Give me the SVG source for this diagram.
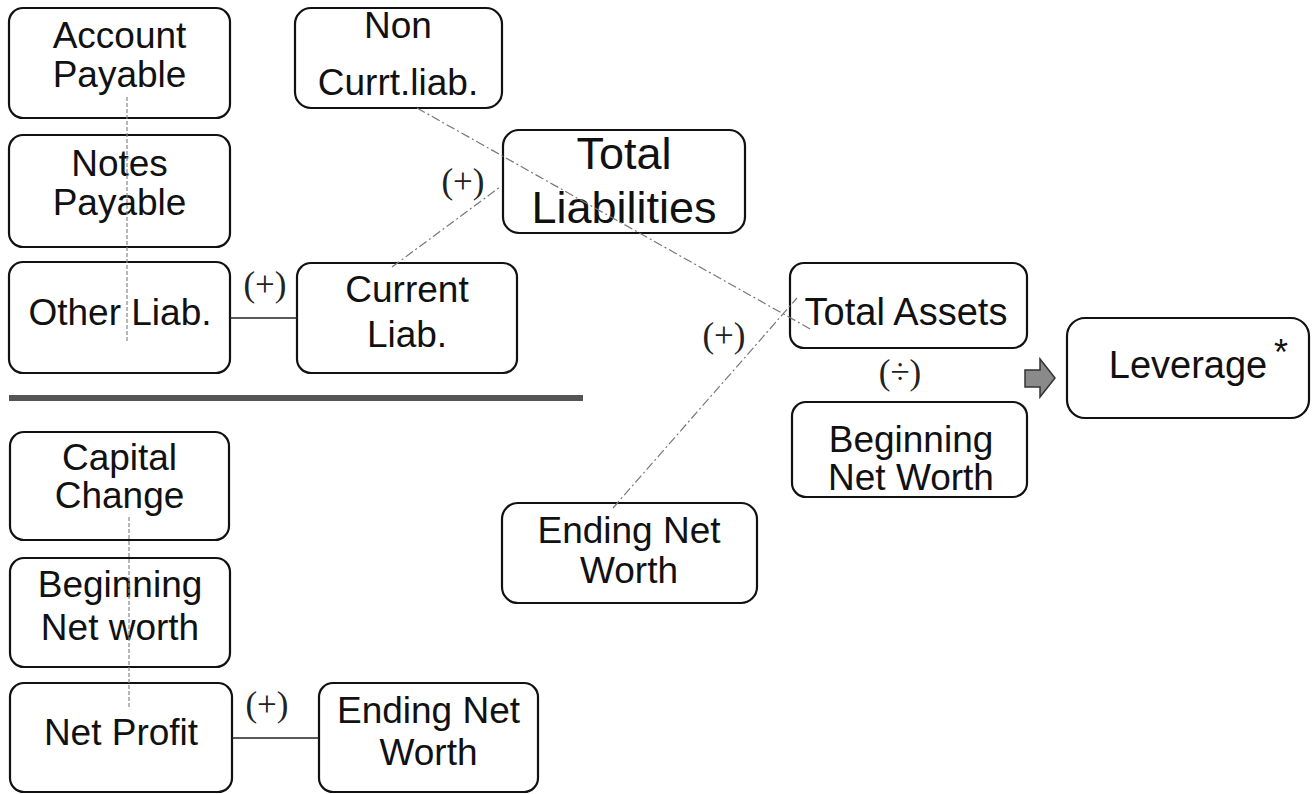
<svg xmlns="http://www.w3.org/2000/svg" width="1312" height="794" viewBox="0 0 1312 794">
<style>
.box{fill:#fff;stroke:#111;stroke-width:2.2}
.t{font-family:"Liberation Sans",Arial,sans-serif;font-size:37px;fill:#111;text-anchor:middle}
.op{font-family:"Liberation Serif","DejaVu Serif",serif;font-size:35px;fill:#222;text-anchor:middle}
.dash{stroke:#777;stroke-width:1.2;fill:none;stroke-dasharray:9 3 2 3}
.dot{stroke:#888;stroke-width:1.2;fill:none;stroke-dasharray:4 2}
.solid{stroke:#222;stroke-width:1.6;fill:none}
</style>
<rect width="1312" height="794" fill="#fff"/>
<g id="separator"><rect x="9" y="395" width="574" height="6" fill="#555"/></g>
<g id="account-payable"><rect class="box" x="9" y="8" width="221" height="110" rx="14"/><text class="t" x="119.5" y="48">Account</text><text class="t" x="119.5" y="87">Payable</text></g>
<g id="notes-payable"><rect class="box" x="9" y="135" width="221" height="112" rx="14"/><text class="t" x="119.5" y="176">Notes</text><text class="t" x="119.5" y="215">Payable</text></g>
<g id="other-liab"><rect class="box" x="9" y="262" width="221" height="111" rx="14"/><text class="t" x="120" y="325">Other Liab.</text></g>
<g id="non-curr-liab"><rect class="box" x="295" y="8" width="207" height="100" rx="16"/><text class="t" x="398" y="38">Non</text><text class="t" x="398" y="95">Currt.liab.</text></g>
<g id="current-liab"><rect class="box" x="297" y="263" width="220" height="110" rx="14"/><text class="t" x="407" y="302">Current</text><text class="t" x="407" y="347">Liab.</text></g>
<g id="total-liabilities"><rect class="box" x="503" y="130" width="242" height="103" rx="16"/><text class="t" x="624" y="169" style="font-size:45px">Total</text><text class="t" x="624" y="223" style="font-size:45px">Liabilities</text></g>
<g id="total-assets"><rect class="box" x="790" y="263" width="237" height="85" rx="14"/><text class="t" x="906" y="325" style="font-size:38px">Total Assets</text></g>
<g id="beginning-net-worth-r"><rect class="box" x="792" y="402" width="235" height="95" rx="14"/><text class="t" x="911" y="452">Beginning</text><text class="t" x="911" y="490">Net Worth</text></g>
<g id="leverage"><rect class="box" x="1067" y="318" width="242" height="100" rx="18"/><text class="t" x="1188" y="378" style="font-size:38px">Leverage</text><text class="t" x="1281" y="365" style="font-size:36px">*</text></g>
<g id="ending-net-worth-m"><rect class="box" x="502" y="503" width="255" height="100" rx="16"/><text class="t" x="629" y="543">Ending Net</text><text class="t" x="629" y="583">Worth</text></g>
<g id="capital-change"><rect class="box" x="10" y="432" width="219" height="108" rx="14"/><text class="t" x="119.5" y="470">Capital</text><text class="t" x="119.5" y="508">Change</text></g>
<g id="beginning-net-worth-l"><rect class="box" x="10" y="558" width="220" height="109" rx="14"/><text class="t" x="120" y="597">Beginning</text><text class="t" x="120" y="640">Net worth</text></g>
<g id="net-profit"><rect class="box" x="10" y="683" width="222" height="109" rx="14"/><text class="t" x="121" y="745">Net Profit</text></g>
<g id="ending-net-worth-b"><rect class="box" x="319" y="683" width="219" height="109" rx="14"/><text class="t" x="428.5" y="723">Ending Net</text><text class="t" x="428.5" y="765">Worth</text></g>
<g id="labels">
<text class="op" x="265" y="296">(+)</text>
<text class="op" x="463" y="193">(+)</text>
<text class="op" x="724" y="347">(+)</text>
<text class="op" x="900" y="384">(÷)</text>
<text class="op" x="267" y="716">(+)</text>
</g>
<g id="arrow"><path d="M1025,370 L1040,370 L1040,359 L1055,378 L1040,397 L1040,387 L1025,387 Z" fill="#8a8a8a" stroke="#333" stroke-width="1.5"/></g>
<g id="connectors">
<line class="dot" x1="127" y1="97" x2="127" y2="342"/>
<line class="dot" x1="129" y1="517" x2="129" y2="707"/>
<line class="solid" x1="230" y1="318" x2="297" y2="318"/>
<line class="solid" x1="232" y1="738" x2="319" y2="738"/>
<line class="dash" x1="417" y1="108" x2="812" y2="330"/>
<line class="dash" x1="392" y1="267" x2="500" y2="187"/>
<line class="dash" x1="613" y1="508" x2="797" y2="298"/>
</g>
</svg>
